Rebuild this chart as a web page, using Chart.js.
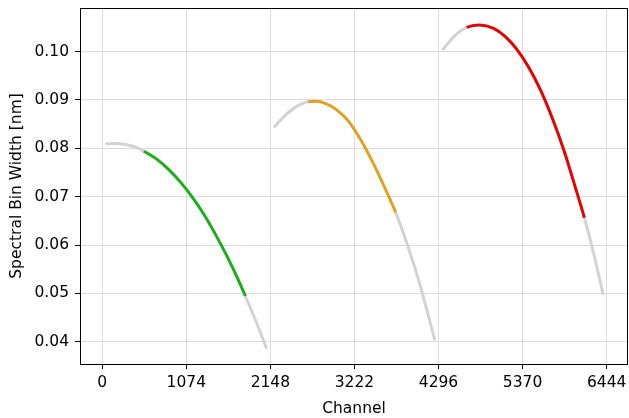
<!DOCTYPE html>
<html>
<head>
<meta charset="utf-8">
<script src="https://cdn.jsdelivr.net/npm/chart.js@4"></script>
<style>
  html, body { margin: 0; padding: 0; background: #fff; }
  #wrap { width: 629px; height: 418px; }
</style>
</head>
<body>
<div id="wrap"><canvas id="chart" width="629" height="418"></canvas></div>
<script>
// Band 1 (green)
const band1X = [40, 150, 300, 450, 530, 700, 850, 1000, 1150, 1300, 1450, 1600, 1750, 1830, 1950, 2100];
const band1Y = [0.0809, 0.0810, 0.0808, 0.0801, 0.0794, 0.0777, 0.0756, 0.0730, 0.0699, 0.0663, 0.0621, 0.0575, 0.0524, 0.0494, 0.0448, 0.0386];
const band1Range = [530, 1830];

// Band 2 (orange)
const band2X = [2195, 2300, 2450, 2630, 2720, 2850, 3000, 3150, 3300, 3450, 3600, 3750, 3900, 4050, 4250];
const band2Y = [0.0843, 0.0862, 0.0883, 0.0896, 0.0897, 0.0893, 0.0879, 0.0855, 0.0818, 0.0773, 0.0722, 0.0667, 0.0600, 0.0523, 0.0403];
const band2Range = [2630, 3750];

// Band 3 (red)
const band3X = [4345, 4500, 4655, 4820, 5000, 5150, 5290, 5450, 5600, 5750, 5900, 6050, 6160, 6280, 6400];
const band3Y = [0.1003, 0.1032, 0.1050, 0.1055, 0.1048, 0.1031, 0.1006, 0.0967, 0.0920, 0.0862, 0.0795, 0.0716, 0.0656, 0.0581, 0.0497];
const band3Range = [4655, 6160];

const xTicks = [0, 1074, 2148, 3222, 4296, 5370, 6444];
const yTicks = [0.04, 0.05, 0.06, 0.07, 0.08, 0.09, 0.10];

const FONT = "'DejaVu Sans', sans-serif";
const FSIZE = 15.5;

function makeBand(xs, ys, range, color) {
  return {
    data: xs.map((x, i) => ({ x: x, y: ys[i] })),
    borderColor: '#d3d3d3',
    borderWidth: 3,
    pointRadius: 0,
    cubicInterpolationMode: 'monotone',
    segment: {
      borderColor: ctx => (ctx.p0.parsed.x >= range[0] && ctx.p1.parsed.x <= range[1]) ? color : '#d3d3d3'
    }
  };
}

// frame around the plot area, like matplotlib spines
const framePlugin = {
  id: 'frame',
  afterDraw(chart) {
    const a = chart.chartArea;
    const c = chart.ctx;
    c.save();
    c.strokeStyle = '#000';
    c.lineWidth = 1;
    c.strokeRect(Math.round(a.left) + 0.5, Math.round(a.top) + 0.5,
                 Math.round(a.right - a.left) - 1, Math.round(a.bottom - a.top));
    c.restore();
  }
};

new Chart(document.getElementById('chart'), {
  type: 'line',
  data: {
    datasets: [
      makeBand(band1X, band1Y, band1Range, '#1aaf1a'),
      makeBand(band2X, band2Y, band2Range, '#dda220'),
      makeBand(band3X, band3Y, band3Range, '#e60000')
    ]
  },
  options: {
    responsive: false,
    animation: false,
    layout: { padding: { top: 8, right: 1, left: 0, bottom: 0 } },
    plugins: { legend: { display: false }, tooltip: { enabled: false } },
    scales: {
      x: {
        type: 'linear',
        min: -284,
        max: 6717,
        afterBuildTicks: s => { s.ticks = xTicks.map(v => ({ value: v })); },
        afterFit: s => { s.height = 54; s.paddingLeft = 0; s.paddingRight = 0; },
        ticks: {
          color: '#000',
          font: { family: FONT, size: FSIZE },
          padding: 5,
          maxRotation: 0,
          callback: v => String(v)
        },
        grid: { color: '#dcdcdc', lineWidth: 1, tickColor: '#000', tickLength: 5 },
        border: { display: false },
        title: { display: true, text: 'Channel', color: '#000', font: { family: FONT, size: FSIZE }, padding: { top: 0, bottom: 0 } }
      },
      y: {
        min: 0.0354,
        max: 0.1090,
        afterBuildTicks: s => { s.ticks = yTicks.map(v => ({ value: v })); },
        afterFit: s => { s.width = 80; s.paddingTop = 0; s.paddingBottom = 0; },
        ticks: {
          color: '#000',
          font: { family: FONT, size: FSIZE },
          padding: 6,
          callback: v => v.toFixed(2)
        },
        grid: { color: '#dcdcdc', lineWidth: 1, tickColor: '#000', tickLength: 5 },
        border: { display: false },
        title: { display: true, text: 'Spectral Bin Width [nm]', color: '#000', font: { family: FONT, size: FSIZE }, padding: { top: 8, bottom: 0 } }
      }
    }
  },
  plugins: [framePlugin]
});
</script>
</body>
</html>
